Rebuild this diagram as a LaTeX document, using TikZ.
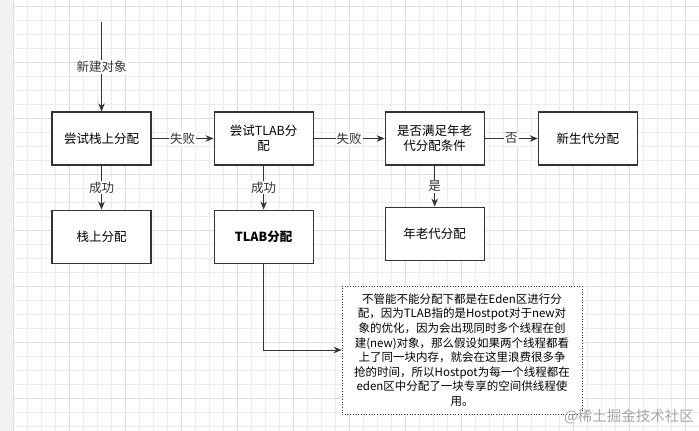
\documentclass[tikz,border=0pt]{standalone}
\usepackage{fontspec}
\setmainfont{Noto Sans CJK SC}
\usetikzlibrary{arrows.meta,positioning}
\definecolor{LineGray}{RGB}{51,51,51}
\definecolor{GridMinor}{RGB}{236,236,236}
\definecolor{GridMajor}{RGB}{222,222,222}
\definecolor{PageGray}{RGB}{241,241,241}
\tikzset{
  box/.style={draw=LineGray,fill=white,line width=1.1pt,minimum width=99pt,
    minimum height=53pt,align=center,inner sep=2pt,
    font=\fontsize{12.5}{15}\selectfont},
  remarkbox/.style={draw=LineGray,dotted,fill=white,line width=0.7pt,
    minimum width=240pt,minimum height=128pt,align=center,
    font=\fontsize{11.5}{14.6}\selectfont},
  flow/.style={-{Stealth[length=8pt,width=6.5pt]},line width=1pt,LineGray},
  tag/.style={fill=white,inner sep=1pt,font=\fontsize{12.5}{15}\selectfont}
}

\begin{document}
\begin{tikzpicture}[x=1pt,y=-1pt]
\useasboundingbox (0,0) rectangle (699,431);

% page and grid
\fill[PageGray] (0,0) rectangle (13,431);
\fill[white] (13,0) rectangle (699,431);
\foreach \k in {0,...,49}
  \draw[GridMinor,line width=0.8pt] (13+14*\k,0) -- (13+14*\k,431);
\foreach \k in {0,...,30}
  \draw[GridMinor,line width=0.8pt] (13,6+14*\k) -- (699,6+14*\k);
\foreach \k in {0,4,...,48}
  \draw[GridMajor,line width=0.8pt] (13+14*\k,0) -- (13+14*\k,431);
\foreach \k in {0,4,...,28}
  \draw[GridMajor,line width=0.8pt] (13,6+14*\k) -- (699,6+14*\k);

% steps
\coordinate (start) at (101.5,22);
\node[box] (tryStack) at (101.5,138.5) {尝试栈上分配};
\node[box,right=62pt of tryStack] (tryTlab) {尝试TLAB分\\配};
\node[box,right=71pt of tryTlab] (oldCheck) {是否满足年老\\代分配条件};
\node[box,right=53pt of oldCheck] (young) {新生代分配};

\node[box,below=44pt of tryStack] (stack) {栈上分配};
\node[box,below=44pt of tryTlab] (tlab) {\textbf{TLAB分配}};
\node[box,below=41pt of oldCheck] (old) {年老代分配};

\node[remarkbox] (remark) at (462,350) {不管能不能分配下都是在Eden区进行分\\
配，因为TLAB指的是Hostpot对于new对\\
象的优化，因为会出现同时多个线程在创\\
建(new)对象，那么假设如果两个线程都看\\
上了同一块内存，就会在这里浪费很多争\\
抢的时间，所以Hostpot为每一个线程都在\\
eden区中分配了一块专享的空间供线程使\\
用。};

\node[text=black!35,font=\fontsize{14.5}{16}\selectfont] (mark) at (629,417) {@稀土掘金技术社区};

% connectors
\draw[flow] (start) -- node[tag] {新建对象} (tryStack);
\draw[flow] (tryStack) -- node[tag] {失败} (tryTlab);
\draw[flow] (tryTlab) -- node[tag] {失败} (oldCheck);
\draw[flow] (oldCheck) -- node[tag] {否} (young);
\draw[flow] (tryStack) -- node[tag] {成功} (stack);
\draw[flow] (tryTlab) -- node[tag] {成功} (tlab);
\draw[flow] (oldCheck) -- node[tag] {是} (old);
\draw[flow] (tlab) |- (remark);

\end{tikzpicture}
\end{document}
